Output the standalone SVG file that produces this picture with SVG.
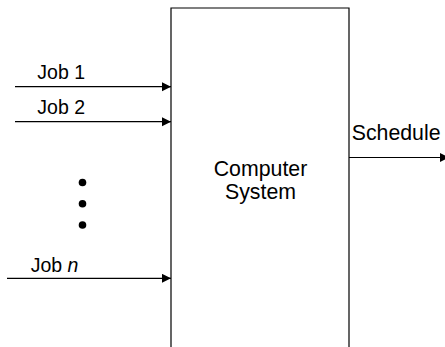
<svg xmlns="http://www.w3.org/2000/svg" width="445" height="347" viewBox="0 0 445 347">
<style>
text{font-family:"Liberation Sans",Arial,sans-serif;font-size:19.5px;fill:#000}
.big{font-size:21.3px}
.c{stroke:#000;stroke-width:1.2;fill:none}
</style>
<defs>
<marker id="ah" markerUnits="userSpaceOnUse" markerWidth="10" markerHeight="10" refX="9" refY="4.5" orient="auto">
<path d="M0,0 L9,4.5 L0,9 z" fill="#000"/>
</marker>
</defs>
<rect width="445" height="347" fill="#fff"/>
<g id="computer-system">
<path class="c" d="M171,350 V8 H349 V350" stroke-width="1.3"/>
<text class="big" x="260.5" y="176" text-anchor="middle">Computer</text>
<text class="big" x="260.5" y="199" text-anchor="middle">System</text>
</g>
<g id="dots">
<circle cx="82.5" cy="182.5" r="3.8"/>
<circle cx="82.5" cy="203.7" r="3.8"/>
<circle cx="82.5" cy="225" r="3.8"/>
</g>
<g id="labels">
<text x="37.3" y="79.3">Job 1</text>
<text x="37.3" y="113.5">Job 2</text>
<text x="30.7" y="271.7">Job <tspan font-style="italic">n</tspan></text>
<text class="big" x="351.7" y="140">Schedule</text>
</g>
<g id="connectors">
<line class="c" x1="15" y1="86.7" x2="171" y2="86.7" marker-end="url(#ah)"/>
<line class="c" x1="15" y1="121.7" x2="171" y2="121.7" marker-end="url(#ah)"/>
<line class="c" x1="7" y1="278.3" x2="171" y2="278.3" marker-end="url(#ah)"/>
<line class="c" x1="349" y1="157.5" x2="449" y2="157.5" marker-end="url(#ah)"/>
</g>
</svg>
